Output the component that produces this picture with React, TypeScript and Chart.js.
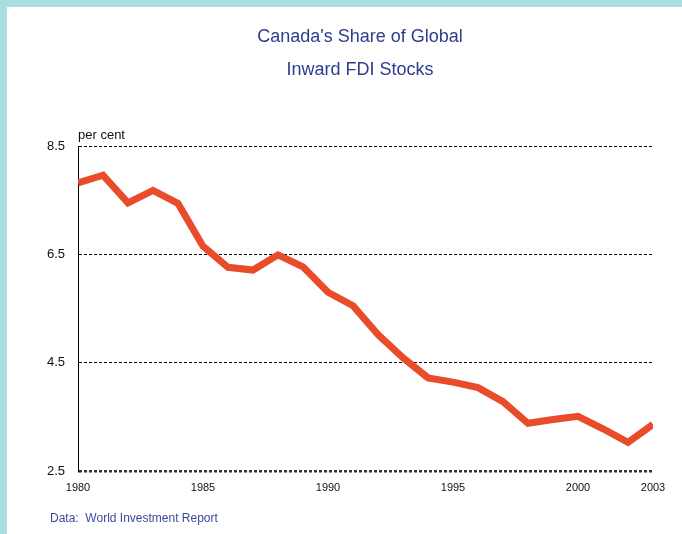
import React, { useEffect, useRef } from "react";
import { Chart, registerables } from "chart.js";

Chart.register(...registerables);

const years = [1980, 1981, 1982, 1983, 1984, 1985, 1986, 1987, 1988, 1989, 1990, 1991, 1992, 1993, 1994, 1995, 1996, 1997, 1998, 1999, 2000, 2001, 2002, 2003];
const shares = [7.82, 7.96, 7.45, 7.68, 7.44, 6.65, 6.26, 6.21, 6.49, 6.27, 5.80, 5.55, 5.02, 4.59, 4.22, 4.14, 4.04, 3.78, 3.38, 3.45, 3.51, 3.28, 3.03, 3.36];
const yTicks = [2.5, 4.5, 6.5, 8.5];
const xTicks = [1980, 1985, 1990, 1995, 2000, 2003];
const titleLines = ["Canada's Share of Global", "Inward FDI Stocks"];
const unitLabel = "per cent";
const sourceNote = "Data:  World Investment Report";

const FONT = "'Liberation Sans', Arial, Helvetica, sans-serif";
const BLUE = "#2e3c8c";

const textPlugin = {
  id: "textPlugin",
  afterDraw(chart: any) {
    const ctx = chart.ctx;
    const area = chart.chartArea;
    ctx.save();
    ctx.fillStyle = BLUE;
    ctx.textAlign = "center";
    ctx.textBaseline = "middle";
    ctx.font = `18px ${FONT}`;
    ctx.fillText(titleLines[0], 353, 30);
    ctx.fillText(titleLines[1], 353, 63);
    ctx.fillStyle = "#111";
    ctx.textAlign = "left";
    ctx.textBaseline = "alphabetic";
    ctx.font = `13px ${FONT}`;
    ctx.fillText(unitLabel, area.left, area.top - 7);
    ctx.fillStyle = "#3c4a9c";
    ctx.font = `12px ${FONT}`;
    ctx.fillText(sourceNote, 43, 515);
    ctx.restore();
  },
};

export default function App() {
  const ref = useRef<HTMLCanvasElement | null>(null);
  useEffect(() => {
    if (!ref.current) return;
    const chart = new Chart(ref.current, {
      type: "line",
      data: {
        datasets: [
          {
            data: years.map((y, i) => ({ x: y, y: shares[i] })),
            borderColor: "#e84c2a",
            backgroundColor: "#e84c2a",
            borderWidth: 7,
            pointRadius: 0,
            tension: 0,
            borderJoinStyle: "miter",
            borderCapStyle: "butt",
            clip: 0,
          } as any,
        ],
      },
      plugins: [textPlugin],
      options: {
        animation: false,
        responsive: false,
        events: [],
        layout: { padding: { top: 139, right: 29, left: 0, bottom: 0 } },
        plugins: { legend: { display: false }, title: { display: false }, tooltip: { enabled: false } },
        scales: {
          x: {
            type: "linear",
            min: 1980,
            max: 2003,
            afterBuildTicks: (s: any) => {
              s.ticks = xTicks.map((v) => ({ value: v }));
            },
            afterFit: (s: any) => {
              s.height = 63;
            },
            ticks: {
              callback: (v: any) => String(v),
              font: { family: FONT, size: 11 },
              color: "#111",
              padding: 10,
              maxRotation: 0,
              autoSkip: false,
            },
            grid: { display: false, drawTicks: false },
            border: { display: false },
          },
          y: {
            min: 2.5,
            max: 8.5,
            afterBuildTicks: (s: any) => {
              s.ticks = yTicks.map((v) => ({ value: v }));
            },
            afterFit: (s: any) => {
              s.width = 71;
            },
            ticks: {
              callback: (v: any) => Number(v).toFixed(1),
              font: { family: FONT, size: 13 },
              color: "#111",
              padding: 13,
            },
            grid: {
              color: (c: any) => (c.tick && c.tick.value === 2.5 ? "#333" : "#000"),
              lineWidth: (c: any) => (c.tick && c.tick.value === 2.5 ? 2.5 : 1),
              drawTicks: false,
            },
            border: { display: true, color: "#000", width: 1, dash: [3, 2] },
          },
        },
      } as any,
    });
    return () => chart.destroy();
  }, []);

  return (
    <div style={{ position: "fixed", left: 0, top: 0, width: 682, height: 534, background: "#a9dede", overflow: "hidden" }}>
      <div style={{ position: "absolute", left: 7, top: 7, width: 675, height: 527, background: "#fff" }}>
        <canvas ref={ref} width={675} height={527} style={{ display: "block" }} />
      </div>
    </div>
  );
}
